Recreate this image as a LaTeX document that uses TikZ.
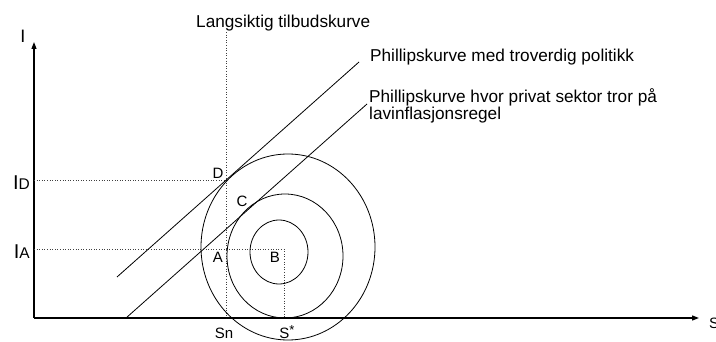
\documentclass[tikz,border=0pt]{standalone}
\usepackage{fontspec}
\setmainfont{Liberation Sans}
\usetikzlibrary{arrows.meta}
\tikzset{
  axis/.style={line width=1.2pt, -{Triangle[length=7pt,width=5pt]}},
  curve/.style={line width=0.8pt},
  guide/.style={dotted, line width=0.6pt, black!75},
  bigtext/.style={font=\fontsize{17.2}{17.5}\selectfont},
}
\begin{document}
\begin{tikzpicture}[x=1pt, y=-1pt, every node/.style={inner sep=0pt, font=\fontsize{15}{15}\selectfont}]
\useasboundingbox (0,0) rectangle (716,342);
% Axes
\coordinate (O) at (34,318);
\coordinate (ytop) at (34,42);
\coordinate (xend) at (699,318);
\draw[axis] (O) -- (ytop);
\draw[axis] (O) -- (xend);
\node[font=\fontsize{18}{18}\selectfont] (ylab) at (23,36) {I};
\node[anchor=west] (xlab) at (709,323) {S};
% Guide lines
\coordinate (LRtop) at (226,32);
\coordinate (Sn) at (226,318);
\coordinate (Dy) at (34,180);
\coordinate (D) at (226,180);
\coordinate (Ay) at (34,249);
\coordinate (B) at (284,249);
\coordinate (Ss) at (284,318);
\draw[guide] (LRtop) -- (Sn);
\draw[guide] (Dy) -- (D);
\draw[guide] (Ay) -- (B) -- (Ss);
% Loss ellipses
\draw[curve] (279,252) ellipse [x radius=29, y radius=32];
\draw[curve] (285,256) ellipse [x radius=58, y radius=62];
\draw[curve] (288,247) ellipse [x radius=87, y radius=93];
% Phillips curves
\coordinate (P1a) at (117,277);
\coordinate (P1b) at (359,62);
\coordinate (P2a) at (126,318);
\coordinate (P2b) at (367,104);
\draw[curve] (P1a) -- (P1b);
\draw[curve] (P2a) -- (P2b);
% Labels
\node[bigtext, anchor=base west] (lrlab) at (196,28) {Langsiktig tilbudskurve};
\node[bigtext, anchor=base west] (p1lab) at (370,62) {Phillipskurve med troverdig politikk};
\node[bigtext, anchor=north west, align=left] (p2lab) at (369,88)
  {Phillipskurve hvor privat sektor tror på\\lavinflasjonsregel};
\node[anchor=base east] (IDlab) at (30,190) {\fontsize{20}{20}\selectfont I\fontsize{15.5}{15.5}\selectfont D};
\node[anchor=base east] (IAlab) at (30,259) {\fontsize{20}{20}\selectfont I\fontsize{15.5}{15.5}\selectfont A};
\node (Dlab) at (218,173) {D};
\node (Clab) at (242,201) {C};
\node (Alab) at (218,257) {A};
\node (Blab) at (275,257) {B};
\node (Snlab) at (224,333) {Sn};
\node (Sslab) at (287,332) {S\raisebox{0.3em}{\fontsize{13}{13}\selectfont *}};
\end{tikzpicture}
\end{document}
